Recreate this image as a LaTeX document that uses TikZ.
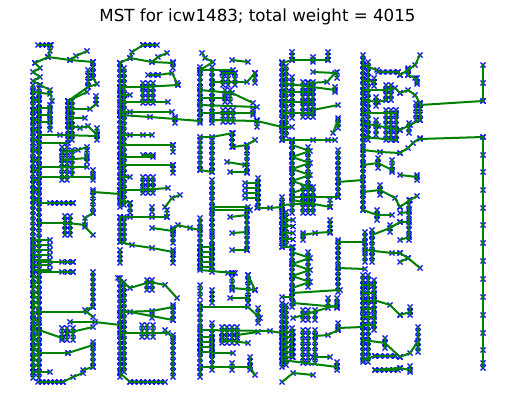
\documentclass[tikz,border=0pt]{standalone}
\usepackage{fontspec}
\newfontfamily\djv{DejaVu Sans}
\definecolor{mplgreen}{RGB}{0,128,0}
\definecolor{mplblue}{RGB}{0,0,255}
\newif\ifedges
\tikzset{edge/.style={draw=mplgreen,line width=2.0pt,line cap=round},
  xmk/.style={draw=mplblue,line width=1.3pt},
  titletext/.style={font=\djv\fontsize{16.67}{20}\selectfont,anchor=base,inner sep=0pt}}
\newcommand\xm[2]{\draw[xmk] (#1,#2) +(-2.5,-2.5) -- +(2.5,2.5) +(-2.5,2.5) -- +(2.5,-2.5);}
\newcommand\mcol[3]{%
  \pgfmathtruncatemacro\nn{max(1,round(abs(#3-#2)/5.2))}%
  \foreach \i in {0,...,\nn}{\pgfmathsetmacro\yy{#2+(#3-#2)*(\i/\nn)}\xm{#1}{\yy}}}
\newcommand\mrow[3]{%
  \pgfmathtruncatemacro\nn{max(1,round(abs(#3-#2)/4.5))}%
  \foreach \i in {0,...,\nn}{\pgfmathsetmacro\xx{#2+(#3-#2)*(\i/\nn)}\xm{\xx}{#1}}}
\newcommand\CL[3]{\ifedges\draw[edge] (#1,#2)--(#1,#3);\else\mcol{#1}{#2}{#3}\fi}
\newcommand\HR[3]{\ifedges\draw[edge] (#2,#1)--(#3,#1);\else\mrow{#1}{#2}{#3}\fi}
\let\PC\CL
\let\QR\HR
\newcommand\ED[1]{\foreach[count=\i] \a/\b in {#1}{%
   \ifedges\ifnum\i>1 \draw[edge] (\pa,\pb)--(\a,\b);\fi\xdef\pa{\a}\xdef\pb{\b}%
   \else\xm{\a}{\b}\fi}}
\newcommand\KB[5]{\pgfmathsetmacro\ysec{#3+#5}\foreach \y in {#3,\ysec,...,#4}{\ED{#1/\y,#2/\y}}}
\newcommand\ZZ[5]{\pgfmathsetmacro\ysec{#3+#5}\foreach \y in {#3,\ysec,...,#4}{%
  \pgfmathsetmacro\ya{\y+#5/2}\pgfmathsetmacro\yb{\y+#5}\ED{#1/\y,#2/\ya,#1/\yb}}}
\newcommand\DATA{%
% ---------------- group 1
\HR{45}{38}{51}
\ED{50/45,50/51,48/57,35/63}
\ED{48/57,70/60,93/62}
\ED{70/60,76/56,87/51}
\CL{93}{62}{78}
\PC{88}{70}{87}
\ED{93/78,97/84,88/87,68/101}
\ED{35/63,40/68,33/72,40/77,33/81,40/85}
\PC{33}{85}{378}
\PC{39}{88}{378}
\ED{40/85,50/90,52/101}
\ED{33/92,50/94}
\KB{33}{39}{100}{200}{10}
\KB{39}{50}{108}{128}{7}
\PC{50}{105}{130}
\ED{68/101,87/92}
\CL{68}{101}{140}
\PC{72}{101}{140}
\ED{68/109,90/109,96/104}
\PC{96}{96}{104}
\ED{68/118,85/118}
\ED{68/125,80/128,88/126,97/135}
\ED{39/135,60/135,97/136}
\PC{97}{128}{140}
\ED{39/143,68/143}
\PC{62}{147}{180}
\PC{67}{147}{180}
\PC{72}{150}{175}
\ED{62/152,78/150,87/147}
\ED{62/160,87/158}
\PC{87}{150}{162}
\ED{39/167,87/167}
\ED{39/177,93/177}
\PC{93}{170}{180}
\CL{93}{190}{213}
\ED{93/192,120/194}
\ED{39/203,73/203}
\QR{203}{50}{73}
\ED{39/223,68/223,85/225}
\PC{65}{216}{235}
\PC{70}{216}{235}
\ED{93/213,85/218,85/227,93/235}
\KB{33}{50}{240}{270}{5}
\ED{39/262,73/262}
\ED{39/272,73/272}
\QR{262}{62}{73}
\QR{272}{62}{73}
\ZZ{33}{39}{275}{305}{10}
\CL{93}{272}{307}
\ED{93/307,85/310}
\ED{39/312,87/312,93/317}
\ED{70/322,95/322,120/325}
\PC{62}{328}{340}
\PC{67}{328}{340}
\PC{73}{328}{340}
\ED{39/330,62/338}
\ED{67/333,93/327}
\CL{93}{342}{367}
\ED{93/345,68/353}
\ED{39/353,68/353}
\ED{93/367,83/370}
\ZZ{33}{39}{318}{358}{10}
\ED{33/372,50/372}
\HR{382}{38}{63}
\ED{63/382,73/377,83/373}
% ---------------- group 2
\HR{45}{143}{157}
\ED{143/45,132/52,130/58,120/63}
\ED{130/58,152/62,173/63}
\ED{152/62,158/57,167/53}
\CL{173}{62}{68}
\CL{120}{63}{207}
\PC{124}{68}{205}
\QR{75}{148}{158}
\ED{158/75,172/73,177/83,178/85}
\ED{120/87,143/87,178/85}
\PC{143}{83}{103}
\PC{148}{83}{103}
\PC{153}{83}{103}
\ED{120/102,168/102}
\ED{120/95,130/95}
\ED{120/112,130/112,172/112}
\ED{120/115,150/117,175/119,200/121}
\CL{175}{117}{123}
\ED{120/135,130/135,143/135,152/135}
\ED{120/145,173/145}
\CL{173}{145}{152}
\QR{155}{143}{153}
\ED{120/157,153/157}
\ED{120/165,173/165}
\CL{173}{165}{173}
\ED{120/177,130/177}
\PC{143}{177}{193}
\PC{148}{177}{193}
\PC{153}{177}{193}
\ED{120/190,143/190,168/188}
\CL{130}{203}{213}
\ED{120/200,130/203}
\PC{152}{207}{212}
\ED{165/207,172/198,180/195}
\CL{120}{217}{242}
\PC{124}{217}{242}
\ED{120/217,130/217,152/217,167/217}
\CL{167}{210}{217}
\ED{152/228,173/231}
\ED{173/230,178/225,190/228,200/230}
\CL{173}{228}{243}
\ED{120/242,132/245,152/248,173/252}
\CL{120}{250}{263}
\CL{173}{250}{263}
\ED{118/278,130/288,150/282,165/285,177/298}
\PC{147}{280}{290}
\PC{152}{280}{290}
\CL{120}{278}{377}
\PC{124}{282}{372}
\ED{120/312,152/311,173/307}
\ED{130/312,173/320}
\PC{152}{313}{318}
\CL{173}{305}{320}
\PC{142}{325}{337}
\PC{147}{325}{337}
\PC{153}{325}{337}
\ED{120/333,168/333}
\CL{173}{335}{377}
\ED{165/330,173/338}
\ED{120/373,130/382}
\HR{382}{130}{165}
% ---------------- group 3
\ED{202/53,205/58,213/62,200/70}
\CL{200}{67}{123}
\CL{212}{67}{123}
\ED{200/70,233/70}
\QR{73}{222}{235}
\ED{232/60,248/62}
\ED{212/82,247/82,255/73}
\CL{255}{73}{83}
\PC{223}{73}{85}
\PC{228}{73}{85}
\PC{235}{73}{85}
\ED{200/90,232/93,253/103}
\PC{225}{90}{102}
\PC{230}{90}{102}
\ED{200/98,225/98}
\ED{200/105,257/107}
\ED{200/113,253/113}
\CL{253}{110}{115}
\PC{223}{110}{122}
\PC{228}{110}{122}
\PC{233}{110}{122}
\ED{212/120,257/121,282/127}
\CL{257}{120}{127}
\ED{200/137,212/137,233/133}
\PC{232}{133}{147}
\CL{200}{140}{170}
\CL{212}{140}{172}
\ED{233/147,247/145,255/140}
\CL{247}{145}{173}
\ED{227/162,245/165}
\ED{200/170,212/172}
\ED{230/172,247/172}
\CL{212}{180}{233}
\CL{258}{178}{207}
\KB{245}{258}{183}{200}{5}
\ED{212/207,248/207}
\ED{257/208,270/208,282/207}
\ED{212/210,250/210}
\CL{247}{210}{250}
\ED{230/217,247/215}
\ED{232/233,247/232}
\ED{232/250,247/250}
\CL{200}{218}{268}
\CL{212}{235}{272}
\KB{200}{212}{247}{267}{5}
\ED{200/270,233/273}
\QR{273}{228}{235}
\CL{200}{285}{297}
\CL{212}{290}{303}
\PC{232}{278}{290}
\CL{248}{275}{303}
\ED{232/288,255/290}
\ED{248/275,255/290}
\ED{230/298,248/298}
\ED{200/307,248/307,260/318}
\CL{258}{308}{323}
\CL{200}{303}{363}
\CL{212}{323}{370}
\ED{200/330,270/331,282/333}
\PC{222}{327}{343}
\PC{227}{327}{343}
\PC{232}{327}{343}
\PC{237}{327}{343}
\ED{237/335,258/332}
\KB{200}{212}{337}{352}{5}
\ED{222/340,248/343}
\ED{212/353,233/353}
\ED{200/367,250/367,255/375}
\PC{232}{363}{370}
\CL{250}{357}{370}
\PC{200}{367}{377}
% ---------------- group 4
\CL{292}{52}{60}
\PC{313}{57}{62}
\CL{328}{52}{60}
\ED{282/63,292/60,313/60,328/60}
\CL{282}{62}{140}
\PC{286}{66}{136}
\ED{313/72,335/73,327/82,308/83}
\CL{337}{72}{78}
\CL{292}{77}{118}
\ED{282/83,335/90}
\CL{335}{87}{92}
\ED{282/92,313/92}
\ED{282/102,313/102}
\PC{303}{82}{117}
\PC{308}{82}{117}
\PC{313}{82}{117}
\ED{282/113,313/113}
\ED{313/110,338/105}
\ED{282/127,292/127}
\CL{338}{118}{128}
\ED{338/120,333/133}
\ED{282/140,292/140,313/140,328/140,335/140}
\CL{292}{140}{213}
\PC{308}{147}{185}
\ZZ{292}{310}{145}{190}{12}
\CL{338}{150}{197}
\ED{338/182,363/180}
\ED{292/197,338/197}
\PC{303}{187}{213}
\PC{308}{187}{213}
\PC{313}{187}{213}
\CL{282}{197}{213}
\ED{282/205,313/203}
\ED{292/200,330/207}
\CL{330}{200}{207}
\CL{282}{210}{247}
\PC{286}{212}{245}
\KB{282}{293}{220}{240}{6.5}
\ED{282/247,293/247}
\PC{303}{233}{240}
\ED{303/235,315/233,330/232}
\CL{330}{220}{233}
\CL{338}{240}{292}
\ED{338/242,365/242}
\ED{338/268,365/269}
\CL{292}{247}{307}
\PC{308}{252}{287}
\ZZ{292}{310}{252}{278}{12}
\ED{292/293,340/290}
\ED{282/297,292/297}
\ED{293/303,337/307}
\PC{328}{298}{308}
\PC{337}{298}{308}
\CL{282}{303}{367}
\PC{286}{305}{365}
\ED{293/318,337/305}
\PC{303}{310}{320}
\PC{308}{310}{320}
\PC{315}{310}{320}
\CL{338}{323}{330}
\ED{338/328,363/327}
\ED{338/330,328/335,315/336}
\CL{292}{328}{357}
\KB{282}{293}{332}{357}{5}
\PC{303}{330}{363}
\PC{308}{330}{363}
\PC{315}{330}{363}
\ED{313/357,330/357}
\ED{282/360,337/367}
\CL{337}{362}{370}
\ED{282/382,293/373,313/375}
% ---------------- group 5
\CL{363}{55}{210}
\PC{368}{62}{140}
\ED{363/65,377/70}
\HR{72}{378}{398}
\ED{398/72,400/75}
\PC{374}{78}{86}
\ED{363/80,374/82}
\ED{363/90,386/90,395/88,400/93}
\PC{386}{85}{100}
\PC{391}{85}{100}
\ED{363/100,378/102,386/100}
\PC{376}{97}{106}
\ED{363/113,396/113}
\PC{386}{110}{140}
\PC{391}{110}{140}
\PC{396}{110}{140}
\ED{363/123,378/126,391/128,400/130}
\PC{376}{120}{135}
\ED{363/137,396/140}
\ED{363/150,380/152,400/153}
\ED{363/165,378/163,392/170}
\PC{378}{158}{168}
\PC{392}{160}{172}
\ED{363/192,380/190,395/198,400/207}
\PC{380}{185}{195}
\ED{363/210,377/215,392/215}
\PC{377}{210}{220}
\CL{365}{232}{262}
\PC{372}{230}{262}
\ED{365/250,392/253,400/253}
\ED{372/235,390/228,400/222}
\PC{390}{225}{232}
\CL{363}{275}{362}
\PC{368}{275}{362}
\PC{374}{280}{330}
\KB{363}{374}{285}{325}{8}
\ED{374/300,390/305,400/315}
\ED{363/340,385/343,400/357}
\PC{385}{338}{348}
\ED{363/360,375/356,395/356}
\QR{356}{375}{395}
\ED{375/370,400/368}
\QR{370}{375}{398}
\ED{420/55,415/65,408/70,400/75}
\ED{408/70,408/75,415/78,417/82}
\PC{408}{68}{75}
\PC{417}{78}{84}
\ED{400/93,408/90,415/95,420/103}
\CL{420}{103}{120}
\PC{416}{103}{120}
\ED{420/105,483/101}
\ED{420/120,410/125,400/130}
\PC{409}{123}{133}
\ED{400/153,408/148,413/143,420/138}
\ED{420/139,483/137}
\ED{400/175,417/177}
\PC{417}{175}{180}
\ED{400/207,410/200,417/196}
\CL{409}{200}{240}
\ED{400/213,409/212}
\ED{400/222,409/222}
\ED{400/240,409/237}
\ED{400/253,408/258,420/268}
\ED{400/262,408/258}
\ED{400/315,410/312}
\CL{410}{307}{315}
\ED{400/357,410/353,417/343}
\CL{418}{327}{352}
\ED{400/368,410/370}
\PC{410}{366}{372}
% ---------------- right column
\ED{483/65,483/83,483/101}
\ED{483/137,483/155,483/172,483/190,483/208,483/225,483/243,483/261,483/279,483/297,483/315,483/333,483/350,483/363,483/368}
}
\begin{document}
\begin{tikzpicture}[x=1pt,y=-1pt]
\useasboundingbox (0,0) rectangle (515,409);
\node[titletext] (title) at (257.5,21.5) {MST for icw1483; total weight = 4015};
\edgesfalse\DATA
\edgestrue\DATA
\end{tikzpicture}
\end{document}
